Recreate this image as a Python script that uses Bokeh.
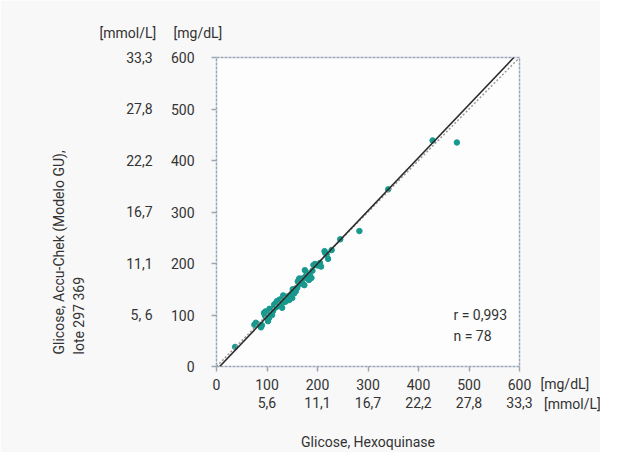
import math
from bokeh.plotting import figure
from bokeh.models import LinearAxis, FixedTicker, Range1d, Label, Slope, ColumnDataSource, Title
from bokeh.embed import file_html
from bokeh.resources import INLINE

# Glucose, hexokinase method [mg/dL]
hexo = [37, 75, 78, 85, 88, 90, 94, 96, 97, 98, 101, 102, 104, 105, 107, 110, 112, 114, 114,
        117, 118, 120, 121, 124, 125, 127, 130, 131, 132, 134, 135, 137, 139, 140, 142, 144,
        146, 147, 148, 150, 151, 152, 154, 155, 157, 158, 160, 161, 163, 164, 166, 167, 170,
        172, 174, 175, 177, 178, 180, 183, 185, 188, 190, 192, 195, 200, 205, 207, 214, 215,
        218, 221, 228, 245, 283, 340, 428, 476]
# Glucose, Accu-Chek [mg/dL]
accu = [38, 81, 85, 81, 76, 80, 104, 99, 107, 96, 100, 88, 94, 112, 110, 100, 108, 113, 120,
        123, 115, 127, 118, 120, 130, 129, 114, 124, 138, 133, 126, 126, 130, 136, 132, 129,
        138, 139, 134, 133, 150, 142, 142, 145, 146, 152, 153, 165, 168, 171, 165, 161, 171,
        160, 158, 187, 176, 172, 181, 168, 177, 172, 186, 197, 199, 196, 201, 194, 224, 221,
        218, 209, 226, 247, 263, 344, 439, 435]

mgdl_ticks = [0, 100, 200, 300, 400, 500, 600]
mmol_ticks = [100, 200, 300, 400, 500, 600]
mmol_labels_x = ["5,6", "11,1", "16,7", "22,2", "27,8", "33,3"]
mmol_labels_y = ["5, 6", "11,1", "16,7", "22,2", "27,8", "33,3"]

reg_slope = 1.03
reg_intercept = -6.5
r_text = "r = 0,993"
n_text = "n = 78"

FONT = "Roboto"
TXT = "#333333"
FRAME = "#9aa6b6"
NB = "\u00a0"

p = figure(width=600, height=452, output_backend="svg", toolbar_location=None,
           x_range=Range1d(0, 600), y_range=Range1d(0, 600),
           min_border_left=216, min_border_right=81, min_border_top=57, min_border_bottom=83)
p.background_fill_color = "#fdfdfd"
p.border_fill_color = "#f8f8f8"
p.outline_line_color = FRAME
p.outline_line_width = 1.5
p.outline_line_dash = "3 1"
p.grid.visible = False

def style_axis(ax, ticks, tick_len, standoff):
    ax.ticker = FixedTicker(ticks=ticks)
    ax.axis_line_color = None
    ax.major_tick_out = tick_len
    ax.major_tick_in = 0
    ax.major_tick_line_color = FRAME if tick_len else None
    ax.major_tick_line_width = 1.5
    ax.minor_tick_line_color = None
    ax.major_label_text_font = FONT
    ax.major_label_text_font_size = "14px"
    ax.major_label_text_color = TXT
    ax.major_label_standoff = standoff

style_axis(p.xaxis[0], mgdl_ticks, 5, 7)
style_axis(p.yaxis[0], mgdl_ticks, 5, 17)

x2 = LinearAxis()
style_axis(x2, mmol_ticks, 0, 4)
x2.major_label_overrides = {t: l for t, l in zip(mmol_ticks, mmol_labels_x)}
x2.axis_label = "Glicose, Hexoquinase"
x2.axis_label_text_font = FONT
x2.axis_label_text_font_size = "14px"
x2.axis_label_text_font_style = "normal"
x2.axis_label_text_color = TXT
x2.axis_label_standoff = 23
p.add_layout(x2, "below")

y2 = LinearAxis()
style_axis(y2, mmol_ticks, 0, 15)
y2.major_label_overrides = {t: l for t, l in zip(mmol_ticks, mmol_labels_y)}
p.add_layout(y2, "left")

# vertical y-axis title, two lines, start-aligned
p.add_layout(Title(text="Glicose, Accu-Chek (Modelo GU),\nlote 297 369", align="left",
                   vertical_align="top", offset=12, standoff=68,
                   text_font=FONT, text_font_size="14px", text_font_style="normal",
                   text_color=TXT, text_line_height=1.3), "left")

p.add_layout(Slope(gradient=1, y_intercept=0, line_color="#9a9a9a", line_width=1.5, line_dash="2 2"))
p.add_layout(Slope(gradient=reg_slope, y_intercept=reg_intercept, line_color="#2b2b2b", line_width=1.6))

src = ColumnDataSource(dict(x=hexo, y=accu))
p.scatter("x", "y", source=src, size=5.5, fill_color="#17998d", line_color="#17998d")

def lab(text, x, y, place=None, baseline="middle", lh=1.2):
    l = Label(x=x, y=y, x_units="screen", y_units="screen", text=text,
              text_font=FONT, text_font_size="14px", text_color=TXT,
              text_align="left", text_baseline=baseline, text_line_height=lh)
    if place:
        p.add_layout(l, place)
    else:
        p.add_layout(l)

lab(r_text, 237, 52)
lab(n_text, 237, 31)
# unit headers above the y axes
lab("[mmol/L]" + NB * 5 + "[mg/dL]", -117, 25, "above")
# unit labels to the right of the x tick rows
lab("[mg/dL]\n" + NB + "[mmol/L]", 21, -9, "right", baseline="top", lh=1.3)

open("out.html", "w").write(file_html(p, INLINE))
